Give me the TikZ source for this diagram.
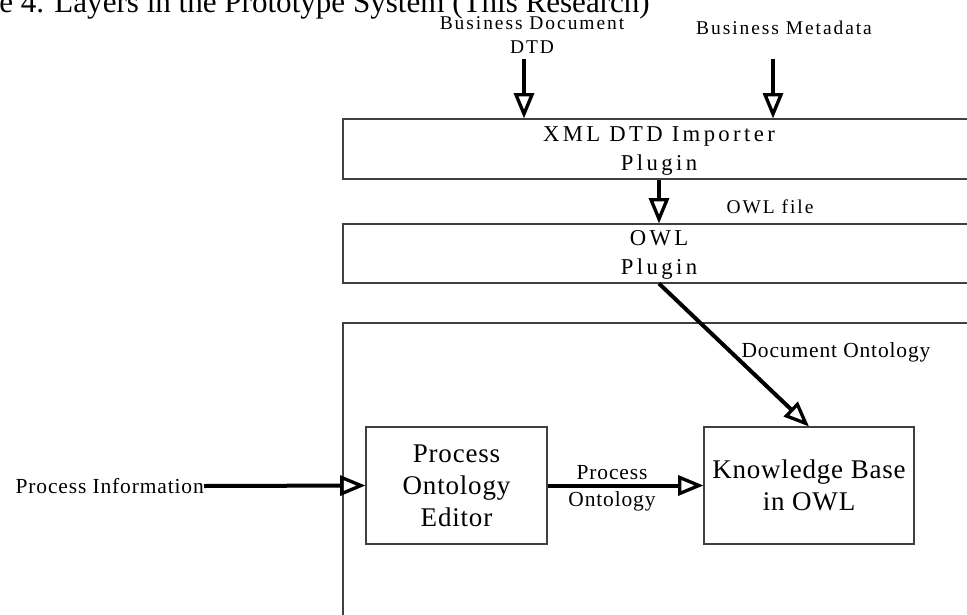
\documentclass[tikz,border=0pt]{standalone}
\usepackage{fontspec}
\setmainfont{Liberation Serif}
\newfontfamily\smallfam[LetterSpace=10]{Liberation Serif}
\newfontfamily\midfam[LetterSpace=4]{Liberation Serif}
\newfontfamily\boxfam[LetterSpace=15]{Liberation Serif}
\newfontfamily\bigfam[LetterSpace=3]{Liberation Serif}
\usetikzlibrary{arrows.meta,fit}
\begin{document}
\begin{tikzpicture}[x=0.75pt,y=-0.75pt,
  boxline/.style={draw=black!75, line width=0.8pt, inner sep=0pt},
  flow/.style={line width=3pt, -{Triangle[open, length=19pt, width=15pt, line width=2.5pt]}},
  smalllbl/.style={font=\smallfam\fontsize{14.6}{18}\selectfont, align=center, inner sep=0pt},
  midlbl/.style={font=\midfam\fontsize{16.1}{20}\selectfont, align=center, inner sep=0pt},
  boxtxt/.style={font=\boxfam\fontsize{17}{22}\selectfont, align=center, inner sep=0pt},
  bigtxt/.style={font=\bigfam\fontsize{20.25}{24}\selectfont, align=center, inner sep=0pt}]
\useasboundingbox (0,0) rectangle (967,614);
% title (cropped at top and left as in the reference)
\node[anchor=base west, inner sep=0pt, font=\fontsize{23.3}{27}\selectfont] (title) at (-1,12.5) {e 4. Layers in the Prototype System (This Research)};
% layer boxes
\node[boxline, fit={(343,119) (1000,179)}] (imp) {};
\node[boxline, fit={(343,224) (1000,283)}] (owl) {};
\node[boxline, fit={(343,323) (1000,660)}] (big) {};
\node[boxline, fit={(366,427) (547,544)}] (poe) {};
\node[boxline, fit={(704,427) (914,544)}] (kb) {};
% box texts
\node[boxtxt] (impt) at (659,151) {XML DTD Importer\\Plugin};
\node[boxtxt] (owlt) at (659,255) {OWL\\Plugin};
\node[bigtxt] (poet) at (poe.center) {Process\\Ontology\\Editor};
\node[bigtxt] (kbt) at (kb.center) {Knowledge Base\\in OWL};
% external labels
\node[smalllbl] (bdd) at (532,35) {Business Document\\DTD};
\node[smalllbl] (bmd) at (784,28) {Business Metadata};
\node[smalllbl] (owlf) at (770,207) {OWL file};
\node[midlbl] (doco) at (836,352) {Document Ontology};
\node[midlbl, anchor=east] (pinf) at (204,486) {Process Information};
\node[midlbl] (pont) at (612,488) {Process\\Ontology};
% entry points of the incoming arrows
\coordinate (bdin) at (524,59);
\coordinate (bmin) at (773,59);
% connectors
\draw[flow] (bdin) -- (bdin |- imp.north);
\draw[flow] (bmin) -- (bmin |- imp.north);
\draw[flow] (impt |- imp.south) -- (impt |- owl.north);
\draw[flow] (owlt |- owl.south) -- (kb.north);
\draw[flow] (pinf.east) -- (poe.west);
\draw[flow] (poe.east) -- (kb.west);
\end{tikzpicture}
\end{document}
